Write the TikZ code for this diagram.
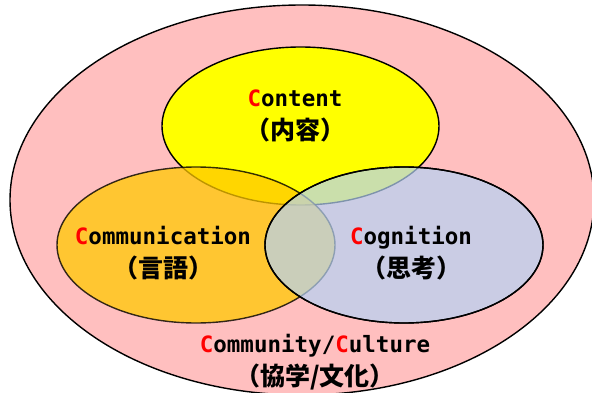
\documentclass[tikz,border=0pt]{standalone}
\usepackage{fontspec}
\setmainfont{DejaVu Sans Mono}
\newfontfamily\jpfont{Noto Sans CJK JP Bold}
\definecolor{outerpink}{RGB}{255,191,191}
\definecolor{contentyellow}{RGB}{255,255,0}
\definecolor{commorange}{RGB}{255,201,0}
\definecolor{coglavender}{RGB}{180,210,245}
\definecolor{initred}{RGB}{255,0,0}
\newcommand{\initC}{\textcolor{initred}{C}}
\newcommand{\jptext}[1]{{\jpfont\fontsize{25}{25}\selectfont #1}}
\begin{document}
\begin{tikzpicture}[x=1pt,y=-1pt,
  rim/.style={draw=black,line width=1.4pt},
  label/.style={align=center,inner sep=0pt,font=\bfseries\fontsize{22.5}{32}\selectfont}]
\useasboundingbox (0,0) rectangle (592,393);
\clip (0,0) rectangle (592,393);
% community / culture
\draw[rim,fill=outerpink] (302,200) ellipse [x radius=292, y radius=195];
% content
\draw[rim,fill=contentyellow] (300.5,126) ellipse [x radius=138.5, y radius=79];
% communication
\draw[rim,fill=commorange,fill opacity=0.74,draw opacity=0.8] (196,245) ellipse [x radius=139, y radius=78];
% cognition
\draw[rim,fill=coglavender,fill opacity=0.7] (404,245) ellipse [x radius=139, y radius=78];
\draw[rim] (404,245) ellipse [x radius=139, y radius=78];
% labels
\node[label] (content) at (295,116) {\initC ontent\\[1pt]\jptext{（内容）}};
\node[label] (communication) at (163,253) {\initC ommunication\\[1pt]\jptext{（言語）}};
\node[label] (cognition) at (411,253) {\initC ognition\\[1pt]\jptext{（思考）}};
\node[label] (community) at (315,362) {\initC ommunity/\initC ulture\\[1pt]\jptext{（協学/文化）}};
\end{tikzpicture}
\end{document}
